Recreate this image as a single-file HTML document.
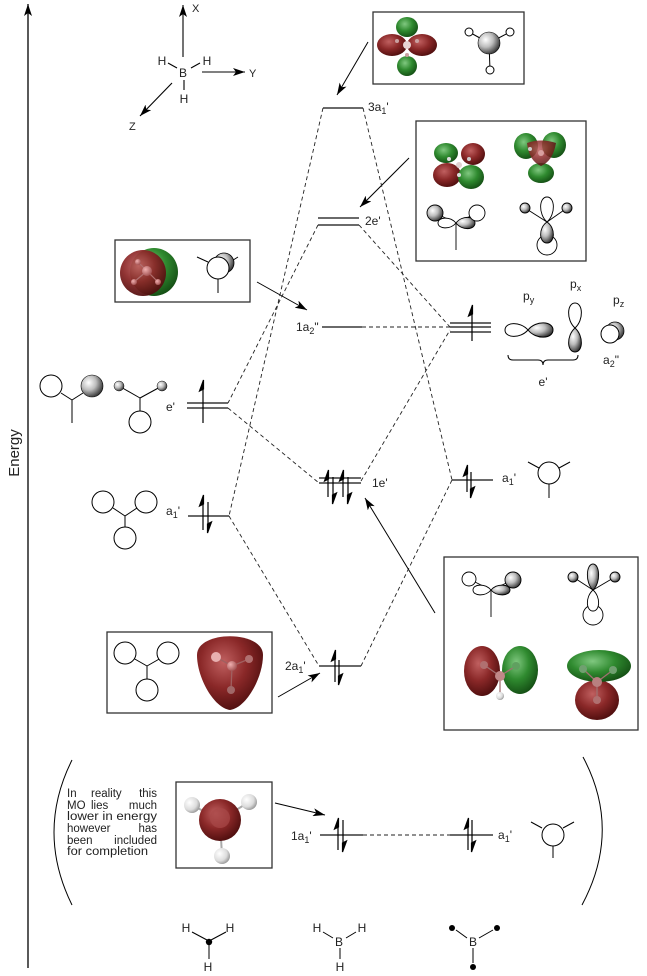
<!DOCTYPE html>
<html><head><meta charset="utf-8"><style>
html,body{margin:0;padding:0;background:#fff;}
svg{display:block;}
text{font-family:"Liberation Sans",Arial,sans-serif;fill:#222;}
</style></head><body>
<svg width="647" height="976" viewBox="0 0 647 976" xmlns="http://www.w3.org/2000/svg">
<defs>
<marker id="a" viewBox="0 0 12 8" refX="12" refY="4" markerWidth="12" markerHeight="8" markerUnits="userSpaceOnUse" orient="auto"><path d="M0,0 L12,4 L0,8 L3,4Z" fill="#000"/></marker>
<radialGradient id="gr" cx="0.4" cy="0.35" r="0.7"><stop offset="0" stop-color="#c06060"/><stop offset="0.5" stop-color="#8a2828"/><stop offset="1" stop-color="#4a0c0c"/></radialGradient>
<radialGradient id="gg" cx="0.4" cy="0.35" r="0.7"><stop offset="0" stop-color="#80c880"/><stop offset="0.5" stop-color="#2f8a2f"/><stop offset="1" stop-color="#124a12"/></radialGradient>
<radialGradient id="gs" cx="0.35" cy="0.35" r="0.75"><stop offset="0" stop-color="#ffffff"/><stop offset="0.45" stop-color="#bdbdbd"/><stop offset="1" stop-color="#1e1e1e"/></radialGradient>
<radialGradient id="gw" cx="0.35" cy="0.35" r="0.75"><stop offset="0" stop-color="#ffffff"/><stop offset="0.6" stop-color="#dcdcdc"/><stop offset="1" stop-color="#8a8a8a"/></radialGradient>
<radialGradient id="gp" cx="0.35" cy="0.35" r="0.75"><stop offset="0" stop-color="#f0b0b0"/><stop offset="1" stop-color="#9a4848"/></radialGradient>
</defs>

<!-- Energy axis -->
<line x1="28" y1="968" x2="28" y2="4" stroke="#000" stroke-width="1.3" marker-end="url(#a)"/>
<text transform="translate(19,453) rotate(-90)" text-anchor="middle" font-size="15">Energy</text>

<!-- coordinate system -->
<g stroke="#000" stroke-width="1.1" fill="none">
<line x1="183" y1="57" x2="183" y2="5" marker-end="url(#a)"/>
<line x1="202" y1="72" x2="245" y2="72" marker-end="url(#a)"/>
<line x1="172" y1="83" x2="140" y2="116" marker-end="url(#a)"/>
<line x1="168" y1="63" x2="177" y2="68"/>
<line x1="191" y1="68" x2="200" y2="63"/>
<line x1="184" y1="80" x2="184" y2="90"/>
</g>
<g font-size="12" text-anchor="middle">
<text x="162" y="65">H</text><text x="183" y="77">B</text><text x="207" y="65">H</text><text x="184" y="103">H</text>
</g>
<g font-size="11">
<text x="192" y="12">X</text><text x="249" y="77">Y</text><text x="129" y="130">Z</text>
</g>

<!-- top box 3a1' -->
<rect x="373" y="12" width="151" height="72" fill="none" stroke="#333" stroke-width="1.3"/>
<ellipse cx="392" cy="45" rx="15" ry="11" fill="url(#gr)"/>
<ellipse cx="422" cy="45" rx="15" ry="11" fill="url(#gr)"/>
<ellipse cx="407" cy="27" rx="11" ry="10" fill="url(#gg)"/>
<ellipse cx="407" cy="66" rx="10" ry="10" fill="url(#gg)"/>
<circle cx="407" cy="45" r="4" fill="#e8d4d4"/>
<circle cx="397" cy="41" r="2" fill="#c9a0a0"/><circle cx="417" cy="41" r="2" fill="#c9a0a0"/><circle cx="407" cy="55" r="2" fill="#c9a0a0"/>
<g stroke="#000" stroke-width="1">
<line x1="489" y1="43" x2="469" y2="32"/><line x1="489" y1="43" x2="510" y2="32"/><line x1="489" y1="43" x2="490" y2="70"/>
<circle cx="469" cy="32" r="4" fill="#fff"/><circle cx="510" cy="32" r="4" fill="#fff"/><circle cx="490" cy="70" r="4" fill="#fff"/>
<circle cx="489" cy="43" r="11" fill="url(#gs)" stroke-width="0.6"/>
</g>
<line x1="368" y1="42" x2="337" y2="95" stroke="#000" stroke-width="1" marker-end="url(#a)"/>

<!-- 2e' box -->
<rect x="416" y="121" width="170" height="140" fill="none" stroke="#333" stroke-width="1.3"/>
<ellipse cx="446" cy="153" rx="12" ry="10" fill="url(#gg)"/>
<ellipse cx="473" cy="154" rx="12" ry="11" fill="url(#gr)"/>
<ellipse cx="447" cy="175" rx="14" ry="12" fill="url(#gr)"/>
<ellipse cx="471" cy="177" rx="13" ry="12" fill="url(#gg)"/>
<circle cx="459" cy="165" r="3" fill="#e0d0d0"/><circle cx="449" cy="159" r="2" fill="#ddd"/><circle cx="469" cy="159" r="2" fill="#ccc"/><circle cx="459" cy="175" r="2" fill="#ddd"/>
<ellipse cx="526" cy="146" rx="12" ry="13" fill="url(#gg)"/>
<ellipse cx="554" cy="145" rx="12" ry="13" fill="url(#gg)"/>
<ellipse cx="541" cy="173" rx="13" ry="10" fill="url(#gg)"/>
<path d="M527,143 Q541,138 556,143 Q553,161 541,166 Q529,161 527,143Z" fill="url(#gr)" opacity="0.85"/>
<circle cx="541" cy="153" r="3" fill="#d9a0a0"/><circle cx="530" cy="149" r="2" fill="#ccc"/>
<g stroke="#000" stroke-width="0.9">
<line x1="435" y1="213" x2="456" y2="223"/><line x1="477" y1="213" x2="456" y2="223"/><line x1="456" y1="223" x2="456" y2="250"/>
<path d="M456,223 C450,216 438,217 438,223 C438,229 450,230 456,223Z" fill="#fff"/>
<path d="M456,223 C462,215 475,216 475,223 C475,230 462,231 456,223Z" fill="url(#gs)"/>
<circle cx="435" cy="213" r="8" fill="url(#gs)"/><circle cx="477" cy="213" r="8" fill="#fff"/>
<line x1="525" y1="208" x2="547" y2="222"/><line x1="567" y1="208" x2="547" y2="222"/>
<circle cx="547" cy="245" r="10" fill="#fff"/>
<path d="M547,222 C538,214 539,197 547,197 C555,197 556,214 547,222Z" fill="#fff"/>
<path d="M547,222 C538,228 539,243 547,243 C555,243 556,228 547,222Z" fill="url(#gs)"/>
<circle cx="525" cy="208" r="5" fill="url(#gs)"/><circle cx="567" cy="208" r="5" fill="url(#gs)"/>
</g>
<line x1="409" y1="158" x2="360" y2="207" stroke="#000" stroke-width="1" marker-end="url(#a)"/>

<!-- 1a2'' box -->
<rect x="115" y="240" width="135" height="62" fill="none" stroke="#333" stroke-width="1.3"/>
<circle cx="154" cy="272" r="24" fill="url(#gg)"/>
<circle cx="143" cy="273" r="23" fill="url(#gr)" opacity="0.95"/>
<g stroke="#b07070" stroke-width="1.2"><line x1="147" y1="271" x2="138" y2="262"/><line x1="147" y1="271" x2="134" y2="282"/><line x1="147" y1="271" x2="158" y2="282"/></g>
<circle cx="147" cy="271" r="5" fill="url(#gp)"/><circle cx="138" cy="262" r="3" fill="url(#gp)"/><circle cx="134" cy="282" r="3" fill="url(#gp)"/><circle cx="158" cy="282" r="3" fill="url(#gp)"/>
<g stroke="#000" stroke-width="1">
<line x1="197" y1="257" x2="208" y2="262"/><line x1="230" y1="262" x2="238" y2="257"/><line x1="218" y1="278" x2="218" y2="293"/>
<circle cx="224" cy="263" r="10" fill="url(#gs)" stroke-width="0.8"/>
<circle cx="218" cy="268" r="11" fill="#fff"/>
</g>
<line x1="257" y1="282" x2="307" y2="310" stroke="#000" stroke-width="1" marker-end="url(#a)"/>

<!-- left e' drawings -->
<g stroke="#000" stroke-width="1">
<line x1="61" y1="393" x2="72" y2="400"/><line x1="83" y1="393" x2="72" y2="400"/><line x1="72" y1="400" x2="72" y2="423"/>
<circle cx="51" cy="386" r="11" fill="#fff"/><circle cx="92" cy="386" r="11" fill="url(#gs)" stroke-width="0.6"/>
<line x1="119" y1="386" x2="140" y2="398"/><line x1="162" y1="386" x2="140" y2="398"/><line x1="140" y1="398" x2="140" y2="411"/>
<circle cx="119" cy="386" r="5" fill="url(#gs)" stroke-width="0.5"/><circle cx="162" cy="386" r="5" fill="url(#gs)" stroke-width="0.5"/>
<circle cx="140" cy="422" r="11" fill="#fff"/>
<line x1="113" y1="508" x2="125" y2="516"/><line x1="137" y1="508" x2="125" y2="516"/><line x1="125" y1="516" x2="125" y2="527"/>
<circle cx="103" cy="502" r="11" fill="#fff"/><circle cx="146" cy="502" r="11" fill="#fff"/><circle cx="125" cy="538" r="11" fill="#fff"/>
</g>

<!-- right p drawings -->
<g stroke="#000" stroke-width="1">
<path d="M528,330 C520,321 505,322 505,330 C505,338 520,339 528,330Z" fill="#fff"/>
<path d="M528,330 C536,320 553,321 553,330 C553,339 536,340 528,330Z" fill="url(#gs)"/>
<path d="M575,328 C566,320 567,303 575,303 C583,303 584,320 575,328Z" fill="#fff"/>
<path d="M575,328 C566,336 567,352 575,352 C583,352 584,336 575,328Z" fill="url(#gs)"/>
<circle cx="615" cy="331" r="9" fill="url(#gs)" stroke-width="0.7"/>
<circle cx="610" cy="334" r="9" fill="#fff"/>
<path d="M508,355 Q508,360 513,360 L538,360 Q543,360 543,365 Q543,360 548,360 L573,360 Q578,360 578,355" fill="none"/>
</g>
<g font-size="12">
<text x="523" y="300">p<tspan font-size="9" dy="3">y</tspan></text>
<text x="570" y="288">p<tspan font-size="9" dy="3">x</tspan></text>
<text x="613" y="304">p<tspan font-size="9" dy="3">z</tspan></text>
<text x="543" y="386" text-anchor="middle">e'</text>
<text x="603" y="364">a<tspan font-size="9" dy="3">2</tspan><tspan dy="-3">"</tspan></text>
</g>

<!-- right a1' orbital -->
<g stroke="#000" stroke-width="1" fill="#fff">
<line x1="539" y1="468" x2="528" y2="462"/><line x1="559" y1="468" x2="570" y2="462"/><line x1="549" y1="484" x2="549" y2="498"/>
<circle cx="549" cy="473" r="11"/>
</g>

<!-- 2a1' box -->
<rect x="107" y="632" width="165" height="81" fill="none" stroke="#333" stroke-width="1.3"/>
<g stroke="#000" stroke-width="1" fill="#fff">
<line x1="133" y1="658" x2="147" y2="666"/><line x1="161" y1="658" x2="147" y2="666"/><line x1="147" y1="666" x2="147" y2="680"/>
<circle cx="125" cy="653" r="11"/><circle cx="168" cy="653" r="11"/><circle cx="147" cy="690" r="11"/>
</g>
<path d="M197,655 C197,630 263,630 263,655 C263,678 246,708 230,710 C214,708 197,678 197,655Z" fill="url(#gr)"/>
<g stroke="#a06060" stroke-width="1.3"><line x1="232" y1="666" x2="216" y2="657"/><line x1="232" y1="666" x2="249" y2="659"/><line x1="232" y1="666" x2="231" y2="690"/></g>
<circle cx="216" cy="657" r="5" fill="#e8b0b0"/><circle cx="232" cy="666" r="5" fill="url(#gp)"/><circle cx="249" cy="659" r="4" fill="#b07070"/><circle cx="231" cy="690" r="4" fill="#a06868"/>
<line x1="278" y1="697" x2="320" y2="673" stroke="#000" stroke-width="1" marker-end="url(#a)"/>

<!-- bottom-right box -->
<rect x="444" y="557" width="194" height="173" fill="none" stroke="#333" stroke-width="1.3"/>
<g stroke="#000" stroke-width="0.9">
<line x1="469" y1="579" x2="491" y2="590"/><line x1="513" y1="580" x2="491" y2="590"/><line x1="491" y1="590" x2="491" y2="617"/>
<path d="M491,590 C485,583 473,584 473,590 C473,596 485,597 491,590Z" fill="#fff"/>
<path d="M491,590 C497,583 510,584 510,590 C510,596 497,597 491,590Z" fill="url(#gs)"/>
<circle cx="469" cy="579" r="7" fill="#fff"/><circle cx="513" cy="580" r="8" fill="url(#gs)"/>
<line x1="573" y1="577" x2="593" y2="590"/><line x1="615" y1="577" x2="593" y2="590"/>
<circle cx="593" cy="615" r="10" fill="#fff"/>
<path d="M593,590 C585,597 586,611 593,611 C600,611 601,597 593,590Z" fill="#fff"/>
<path d="M593,590 C585,583 586,564 593,564 C600,564 601,583 593,590Z" fill="url(#gs)"/>
<circle cx="573" cy="577" r="5" fill="url(#gs)"/><circle cx="615" cy="577" r="5" fill="url(#gs)"/>
</g>
<ellipse cx="482" cy="671" rx="18" ry="25" fill="url(#gr)"/>
<ellipse cx="520" cy="670" rx="18" ry="24" fill="url(#gg)"/>
<g stroke="#a07070" stroke-width="1.3"><line x1="500" y1="676" x2="484" y2="665"/><line x1="500" y1="676" x2="516" y2="666"/><line x1="500" y1="676" x2="500" y2="694"/></g>
<circle cx="484" cy="665" r="4" fill="#b07070"/><circle cx="516" cy="666" r="4" fill="#60a060"/><circle cx="500" cy="676" r="5" fill="#c08888"/><circle cx="500" cy="696" r="4" fill="url(#gw)"/>
<ellipse cx="597" cy="700" rx="22" ry="20" fill="url(#gr)"/>
<ellipse cx="599" cy="666" rx="32" ry="16" fill="url(#gg)"/>
<g stroke="#a07070" stroke-width="1.3"><line x1="597" y1="682" x2="583" y2="669"/><line x1="597" y1="682" x2="613" y2="670"/><line x1="597" y1="682" x2="597" y2="700"/></g>
<circle cx="583" cy="669" r="4" fill="#70a070"/><circle cx="613" cy="670" r="4" fill="#70a070"/><circle cx="597" cy="682" r="5" fill="#b88080"/><circle cx="597" cy="700" r="4" fill="#b07070"/>
<line x1="435" y1="613" x2="365" y2="498" stroke="#000" stroke-width="1" marker-end="url(#a)"/>

<!-- dashed connectors -->
<g stroke="#222" stroke-width="0.9" stroke-dasharray="4 3" fill="none">
<line x1="323" y1="108" x2="229" y2="516"/>
<line x1="363" y1="108" x2="452" y2="480"/>
<line x1="318" y1="225" x2="228" y2="403"/>
<line x1="359" y1="225" x2="450" y2="327"/>
<line x1="362" y1="327" x2="450" y2="327"/>
<line x1="228" y1="408" x2="319" y2="483"/>
<line x1="361" y1="481" x2="450" y2="330"/>
<line x1="229" y1="516" x2="319" y2="666"/>
<line x1="361" y1="666" x2="452" y2="480"/>
<line x1="363" y1="835" x2="450" y2="835"/>
</g>

<!-- levels -->
<g stroke="#111" stroke-width="1.3">
<line x1="323" y1="108" x2="363" y2="108"/>
<line x1="318" y1="218" x2="359" y2="218"/><line x1="318" y1="225" x2="359" y2="225"/>
<line x1="322" y1="327" x2="362" y2="327"/>
<line x1="450" y1="323" x2="491" y2="323"/><line x1="450" y1="327" x2="491" y2="327"/><line x1="450" y1="332" x2="491" y2="332"/>
<line x1="187" y1="403" x2="228" y2="403"/><line x1="187" y1="408" x2="228" y2="408"/>
<line x1="319" y1="478" x2="361" y2="478"/><line x1="319" y1="483" x2="361" y2="483"/>
<line x1="452" y1="480" x2="493" y2="480"/>
<line x1="188" y1="516" x2="229" y2="516"/>
<line x1="319" y1="666" x2="361" y2="666"/>
<line x1="320" y1="835" x2="363" y2="835"/>
<line x1="450" y1="835" x2="493" y2="835"/>
</g>

<!-- electrons -->
<g stroke="#000" stroke-width="1.2" fill="#000">
<line x1="203" y1="423" x2="203" y2="386"/><polygon points="203.5,380 199.5,391 203.5,389"/>
<line x1="472" y1="341" x2="472" y2="311"/><polygon points="472.5,305 468.5,316 472.5,314"/>
<line x1="203" y1="530" x2="203" y2="501"/><polygon points="203.5,495 199.5,506 203.5,504"/>
<line x1="208" y1="502" x2="208" y2="527"/><polygon points="207.5,533 211.5,522 207.5,524"/>
<line x1="328" y1="497" x2="328" y2="476"/><polygon points="328.5,470 324.5,481 328.5,479"/>
<line x1="333" y1="477" x2="333" y2="498"/><polygon points="332.5,504 336.5,493 332.5,495"/>
<line x1="343" y1="497" x2="343" y2="476"/><polygon points="343.5,470 339.5,481 343.5,479"/>
<line x1="348" y1="477" x2="348" y2="498"/><polygon points="347.5,504 351.5,493 347.5,495"/>
<line x1="467" y1="492" x2="467" y2="471"/><polygon points="467.5,465 463.5,476 467.5,474"/>
<line x1="471" y1="472" x2="471" y2="492"/><polygon points="470.5,498 474.5,487 470.5,489"/>
<line x1="335" y1="682" x2="335" y2="656"/><polygon points="335.5,650 331.5,661 335.5,659"/>
<line x1="339" y1="660" x2="339" y2="679"/><polygon points="338.5,685 342.5,674 338.5,676"/>
<line x1="338" y1="850" x2="338" y2="824"/><polygon points="338.5,818 334.5,829 338.5,827"/>
<line x1="343" y1="820" x2="343" y2="846"/><polygon points="342.5,852 346.5,841 342.5,843"/>
<line x1="468" y1="850" x2="468" y2="824"/><polygon points="468.5,818 464.5,829 468.5,827"/>
<line x1="472" y1="820" x2="472" y2="846"/><polygon points="471.5,852 475.5,841 471.5,843"/>
</g>

<!-- labels -->
<g font-size="12">
<text x="368" y="111">3a<tspan font-size="9" dy="3">1</tspan><tspan dy="-3">'</tspan></text>
<text x="365" y="225">2e'</text>
<text x="296" y="331">1a<tspan font-size="9" dy="3">2</tspan><tspan dy="-3">"</tspan></text>
<text x="166" y="411">e'</text>
<text x="372" y="487">1e'</text>
<text x="166" y="515">a<tspan font-size="9" dy="3">1</tspan><tspan dy="-3">'</tspan></text>
<text x="502" y="482">a<tspan font-size="9" dy="3">1</tspan><tspan dy="-3">'</tspan></text>
<text x="285" y="670">2a<tspan font-size="9" dy="3">1</tspan><tspan dy="-3">'</tspan></text>
<text x="291" y="840">1a<tspan font-size="9" dy="3">1</tspan><tspan dy="-3">'</tspan></text>
<text x="498" y="839">a<tspan font-size="9" dy="3">1</tspan><tspan dy="-3">'</tspan></text>
</g>

<!-- bracket section -->
<path d="M72,760 Q36,832 72,905" fill="none" stroke="#000" stroke-width="1"/>
<path d="M583,757 Q622,830 582,905" fill="none" stroke="#000" stroke-width="1"/>
<g font-size="11.5">
<text x="67" y="797">In</text><text x="91" y="797">reality</text><text x="157" y="797" text-anchor="end">this</text>
<text x="67" y="809">MO</text><text x="91" y="809">lies</text><text x="157" y="809" text-anchor="end">much</text>
<text x="67" y="820" textLength="90" lengthAdjust="spacingAndGlyphs">lower in energy</text>
<text x="67" y="832">however</text><text x="157" y="832" text-anchor="end">has</text>
<text x="67" y="844">been</text><text x="157" y="844" text-anchor="end">included</text>
<text x="67" y="855" textLength="81" lengthAdjust="spacingAndGlyphs">for completion</text>
</g>
<rect x="176" y="782" width="96" height="86" fill="none" stroke="#333" stroke-width="1.3"/>
<g stroke="#aaa" stroke-width="2"><line x1="220" y1="820" x2="192" y2="805"/><line x1="220" y1="820" x2="249" y2="802"/><line x1="220" y1="820" x2="222" y2="856"/></g>
<circle cx="220" cy="820" r="21" fill="url(#gr)"/>
<circle cx="220" cy="818" r="10" fill="#a84848" opacity="0.7"/>
<circle cx="192" cy="805" r="8" fill="url(#gw)"/><circle cx="249" cy="802" r="8" fill="url(#gw)"/><circle cx="222" cy="856" r="8" fill="url(#gw)"/>
<line x1="275" y1="803" x2="325" y2="815" stroke="#000" stroke-width="1" marker-end="url(#a)"/>
<g stroke="#000" stroke-width="1" fill="#fff">
<line x1="542" y1="828" x2="531" y2="822"/><line x1="563" y1="828" x2="574" y2="822"/><line x1="553" y1="846" x2="553" y2="858"/>
<circle cx="553" cy="835" r="11"/>
</g>

<!-- bottom molecules -->
<g stroke="#000" stroke-width="1">
<line x1="192" y1="932" x2="207" y2="940"/><line x1="211" y1="940" x2="226" y2="932"/><line x1="209" y1="943" x2="209" y2="959"/>
<line x1="323" y1="932" x2="333" y2="938"/><line x1="346" y1="938" x2="356" y2="932"/><line x1="340" y1="948" x2="340" y2="959"/>
<line x1="456" y1="930" x2="467" y2="938"/><line x1="479" y1="938" x2="493" y2="930"/><line x1="473" y1="948" x2="473" y2="963"/>
</g>
<circle cx="209" cy="942" r="3.2" fill="#000"/>
<circle cx="452" cy="928" r="3" fill="#000"/><circle cx="497" cy="928" r="3" fill="#000"/><circle cx="473" cy="967" r="3" fill="#000"/>
<g font-size="12" text-anchor="middle">
<text x="186" y="932">H</text><text x="230" y="932">H</text><text x="208" y="971">H</text>
<text x="317" y="932">H</text><text x="339" y="946">B</text><text x="362" y="932">H</text><text x="340" y="971">H</text>
<text x="473" y="946">B</text>
</g>
</svg>
</body></html>
